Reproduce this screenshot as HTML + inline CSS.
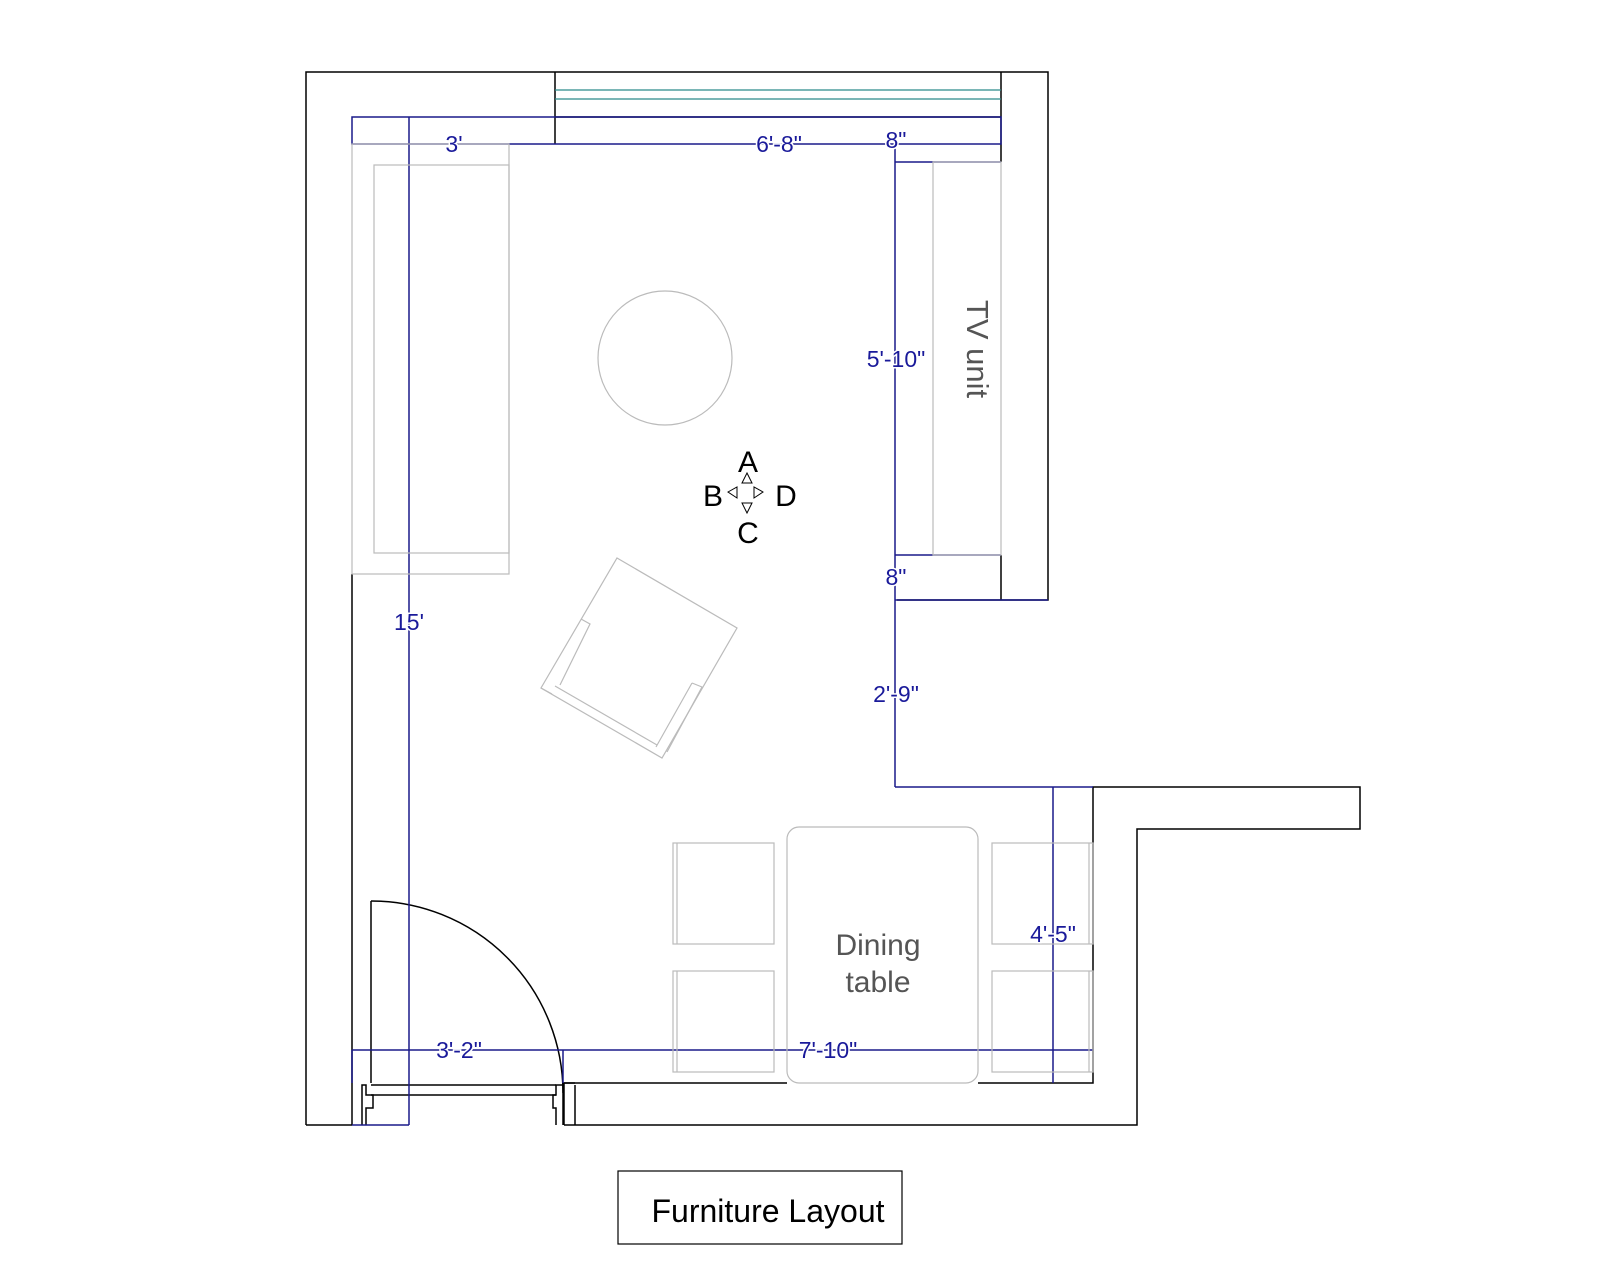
<!DOCTYPE html>
<html><head><meta charset="utf-8"><style>
html,body{margin:0;padding:0;background:#fff;}
svg{display:block;}
text{font-family:"Liberation Sans",sans-serif;}
.b{fill:#1a1a9a;font-size:23px;text-anchor:middle;stroke:#fff;stroke-width:3px;paint-order:stroke;}
</style></head><body>
<svg width="1600" height="1280" viewBox="0 0 1600 1280" xmlns="http://www.w3.org/2000/svg">
<rect width="1600" height="1280" fill="#fff"/>
<g fill="none" stroke="#000" stroke-width="1.5">
<polyline points="564,1125 1137,1125 1137,829 1360,829 1360,787 1093,787 1093,1083 978,1083"/>
<polyline points="787,1083 564,1083 564,1125"/>
<polyline points="306,1125 306,72 1048,72 1048,600 897,600"/>
<line x1="352" y1="1125" x2="306" y2="1125"/>
<line x1="555" y1="72" x2="555" y2="144"/>
<line x1="1001" y1="72" x2="1001" y2="162"/>
<line x1="1001" y1="555" x2="1001" y2="600"/>
<line x1="555" y1="117" x2="1001" y2="117"/>
<line x1="352" y1="574" x2="352" y2="1125"/>
<polyline points="371,1083 371,901"/>
<path d="M371,901 A192,192 0 0 1 563,1093"/>
<line x1="371" y1="1085" x2="556" y2="1085"/>
<line x1="371" y1="1095" x2="556" y2="1095"/>
<polyline points="362,1125 362,1085 366,1085 366,1095 373,1095 373,1108 366,1108 366,1125"/>
<polyline points="563,1125 563,1085 556,1085 556,1095 553,1095 553,1108 556,1108 556,1125"/>
<line x1="575" y1="1085" x2="575" y2="1125"/>
<line x1="563" y1="1083" x2="575" y2="1083"/>
</g>
<g stroke="#2a8a8a" stroke-width="1.2">
<line x1="555" y1="90" x2="1001" y2="90"/>
<line x1="555" y1="99" x2="1001" y2="99"/>
</g>
<g fill="none" stroke="#1a1a8a" stroke-width="1.5">
<rect x="352" y="117" width="649" height="27"/>
<line x1="409" y1="117" x2="409" y2="1125"/>
<line x1="895" y1="144" x2="895" y2="787"/>
<line x1="895" y1="162" x2="1001" y2="162"/>
<line x1="895" y1="555" x2="1001" y2="555"/>
<line x1="895" y1="600" x2="1048" y2="600"/>
<line x1="895" y1="787" x2="1093" y2="787"/>
<line x1="1053" y1="787" x2="1053" y2="1083"/>
<line x1="352" y1="1050" x2="1093" y2="1050"/>
<line x1="352" y1="1050" x2="352" y2="1083"/>
<line x1="563" y1="1050" x2="563" y2="1083"/>
<line x1="409" y1="1125" x2="352" y2="1125"/>
</g>
<g fill="none" stroke="#bbb" stroke-width="1.2">
<rect x="352" y="144" width="157" height="430"/>
<rect x="374" y="165" width="135" height="388"/>
<rect x="933" y="162" width="68" height="393"/>
<circle cx="665" cy="358" r="67"/>
<polygon points="617,558 737,628 662,758 541,688"/>
<polyline points="581,619 590,624 560,685"/>
<polyline points="555,686 657,745"/>
<polyline points="541,688 552,694"/>
<polyline points="692,683 702,687 667,752"/>
<line x1="692" y1="683" x2="656" y2="747"/>
<rect x="787" y="827" width="191" height="256" rx="12"/>
<rect x="673" y="843" width="101" height="101"/>
<rect x="673" y="971" width="101" height="101"/>
<rect x="992" y="843" width="101" height="101"/>
<rect x="992" y="971" width="101" height="101"/>
<line x1="677" y1="843" x2="677" y2="944"/>
<line x1="677" y1="971" x2="677" y2="1072"/>
<line x1="1089" y1="843" x2="1089" y2="944"/>
<line x1="1089" y1="971" x2="1089" y2="1072"/>
</g>
<g fill="#fff" stroke="#000" stroke-width="1">
<polygon points="747,473 752,483 742,483"/>
<polygon points="742,503 752,503 747,513"/>
<polygon points="728,492 737,487 737,498"/>
<polygon points="763,492 754,487 754,498"/>
</g>
<g font-size="30" fill="#000" text-anchor="middle">
<text x="748" y="472">A</text>
<text x="713" y="506">B</text>
<text x="786" y="506">D</text>
<text x="748" y="543">C</text>
</g>
<text class="b" x="454" y="152">3'</text>
<text class="b" x="779" y="152">6'-8"</text>
<text class="b" x="896" y="148">8"</text>
<text class="b" x="896" y="367">5'-10"</text>
<text class="b" x="896" y="585">8"</text>
<text class="b" x="409" y="630">15'</text>
<text class="b" x="896" y="702">2'-9"</text>
<text class="b" x="1053" y="942">4'-5"</text>
<text class="b" x="459" y="1058">3'-2"</text>
<text class="b" x="828" y="1058">7'-10"</text>
<text x="878" y="955" font-size="30" fill="#555" text-anchor="middle">Dining</text>
<text x="878" y="992" font-size="30" fill="#555" text-anchor="middle">table</text>
<text x="0" y="0" font-size="31" fill="#555" text-anchor="middle" transform="translate(967,349) rotate(90)">TV unit</text>
<rect x="618" y="1171" width="284" height="73" fill="none" stroke="#000" stroke-width="1.2"/>
<text x="768" y="1222" font-size="32" fill="#000" text-anchor="middle">Furniture Layout</text>
</svg>
</body></html>
